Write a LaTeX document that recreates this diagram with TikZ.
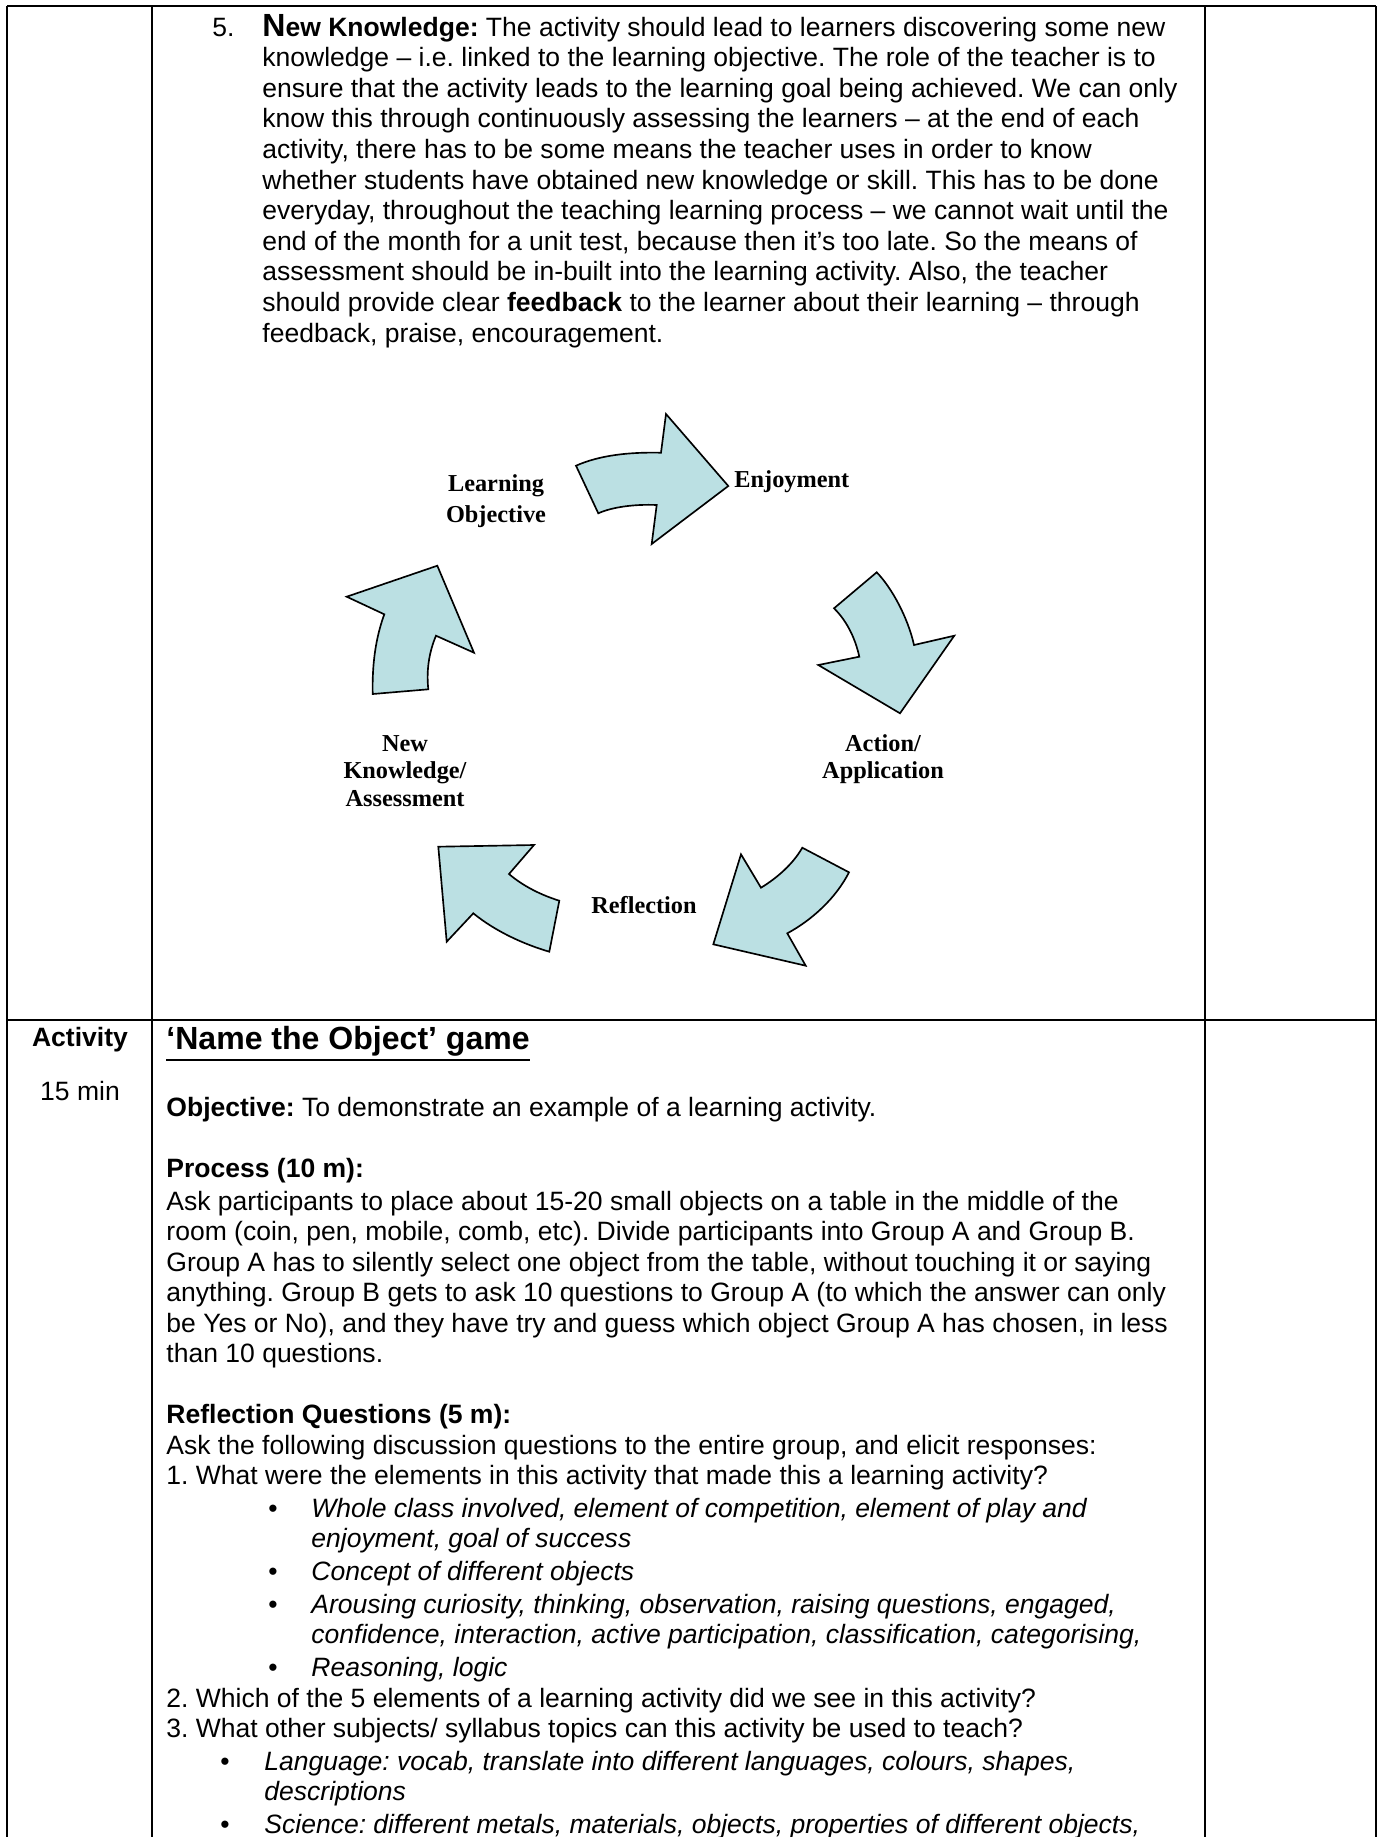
\documentclass[tikz,border=0pt]{standalone}
\usepackage{fontspec}
\setmainfont{Liberation Sans}
\newfontfamily\labserif{Liberation Serif}
\definecolor{arrowfill}{RGB}{187,224,227}
\newcommand{\bodyfont}{\frenchspacing\fontsize{12}{13.8}\selectfont}
\newcommand{\labfont}{\labserif\bfseries\fontsize{11}{12.4}\selectfont}
\tikzset{
  body/.style={anchor=base west, inner sep=0pt, font=\bodyfont},
  lab/.style={inner sep=0pt, align=center, font=\labfont},
  cyc/.style={draw=black, fill=arrowfill, line width=0.75pt, line join=miter},
  gridthin/.style={line width=0.55pt},
  gridthick/.style={line width=1pt},
  bul/.style={anchor=base west, inner sep=0pt, font=\bodyfont}
}
\begin{document}
\begin{tikzpicture}[x=0.4525pt, y=-0.4525pt]
\useasboundingbox (0,0) rectangle (1380,1837);
\fill[white] (0,0) rectangle (1380,1837);

% table rules
\draw[gridthick] (7,6) -- (1376,6);
\draw[gridthick] (7,1020) -- (1376,1020);
\draw[gridthin] (7,6) -- (7,1837);
\draw[gridthin] (152,6) -- (152,1837);
\draw[gridthin] (1205,6) -- (1205,1837);
\draw[gridthin] (1376,6) -- (1376,1837);

% top paragraph
\node[body] (n5) at (212,36) {5.};
\node[body] (p1) at (262,36) {\textbf{{\fontsize{14.5}{14}\selectfont N}ew Knowledge:} The activity should lead to learners discovering some new};
\node[body] (p2) at (262,66.6) {knowledge – i.e. linked to the learning objective. The role of the teacher is to};
\node[body] (p3) at (262,97.2) {ensure that the activity leads to the learning goal being achieved. We can only};
\node[body] (p4) at (262,127.8) {know this through continuously assessing the learners – at the end of each};
\node[body] (p5) at (262,158.4) {activity, there has to be some means the teacher uses in order to know};
\node[body] (p6) at (262,189) {whether students have obtained new knowledge or skill. This has to be done};
\node[body] (p7) at (262,219.6) {everyday, throughout the teaching learning process – we cannot wait until the};
\node[body] (p8) at (262,250.2) {end of the month for a unit test, because then it’s too late. So the means of};
\node[body] (p9) at (262,280.8) {assessment should be in-built into the learning activity. Also, the teacher};
\node[body] (p10) at (262,311.4) {should provide clear \textbf{feedback} to the learner about their learning – through};
\node[body] (p11) at (262,342) {feedback, praise, encouragement.};

% cycle arrows
\draw[cyc] (576,465.7) .. controls (600,455) and (630,452) .. (661,452.7)
  -- (666,414) -- (728.3,486) -- (651.7,544) -- (656.7,505)
  .. controls (635,504) and (612,507) .. (598.3,513.3) -- cycle;
\draw[cyc] (876.7,572.3) .. controls (892,588) and (908,618) .. (914,645)
  -- (954.3,635.7) -- (900,713.3) -- (818.3,665) -- (859.3,656.7)
  .. controls (855,637) and (846,620) .. (834,608.3) -- cycle;
\draw[cyc] (802.3,847.7) -- (849,872.3) .. controls (836,898) and (812,920) .. (787.3,933.3)
  -- (805.7,965.7) -- (713.3,944.3) -- (741,854.3) -- (761,887.7)
  .. controls (777,878) and (793,864) .. (802.3,847.7) -- cycle;
\draw[cyc] (438.3,846.7) -- (534,845) -- (509,874)
  .. controls (523,886) and (541,895) .. (559.3,900.7)
  -- (549.3,951.7) .. controls (523,944) and (495,931) .. (473.3,913.3)
  -- (446.7,941.7) -- cycle;
\draw[cyc] (346.7,596.7) -- (437.3,565.7) -- (474,652.7) -- (436,635.7)
  .. controls (430,650) and (426,668) .. (428.3,689.3)
  -- (372.7,694) .. controls (372,663) and (376,637) .. (384.3,614.3) -- cycle;

% cycle labels
\node[lab, font=\labserif\bfseries\fontsize{11}{13.8}\selectfont] (lobj) at (496,501) {Learning\\Objective};
\node[lab, anchor=west] (enj) at (734,482) {Enjoyment};
\node[lab] (act) at (883,759) {Action/\\Application};
\node[lab] (refl) at (644,905) {Reflection};
\node[lab] (newk) at (405,771) {New\\Knowledge/\\Assessment};

% second row
\node[body, anchor=base, font=\bodyfont\bfseries] (actv) at (80,1046) {Activity};
\node[body, anchor=base] (mins) at (80,1100) {15 min};
\node[body, font=\fontsize{14.5}{16}\selectfont\bfseries] (title) at (166,1049) {‘Name the Object’ game};
\draw[line width=1.1pt] ([yshift=-5pt]title.base west) -- ([yshift=-5pt]title.base east);
\node[body] (obj) at (166,1116) {\textbf{Objective:} To demonstrate an example of a learning activity.};
\node[body] (proc) at (166,1177) {\textbf{Process (10 m):}};
\node[body] (q1) at (166,1210) {Ask participants to place about 15-20 small objects on a table in the middle of the};
\node[body] (q2) at (166,1240) {room (coin, pen, mobile, comb, etc). Divide participants into Group A and Group B.};
\node[body] (q3) at (166,1271) {Group A has to silently select one object from the table, without touching it or saying};
\node[body] (q4) at (166,1301) {anything. Group B gets to ask 10 questions to Group A (to which the answer can only};
\node[body] (q5) at (166,1332) {be Yes or No), and they have try and guess which object Group A has chosen, in less};
\node[body] (q6) at (166,1362) {than 10 questions.};
\node[body] (rq) at (166,1423) {\textbf{Reflection Questions (5 m):}};
\node[body] (r1) at (166,1454) {Ask the following discussion questions to the entire group, and elicit responses:};
\node[body] (r2) at (166,1484) {1. What were the elements in this activity that made this a learning activity?};
\node[bul] (b1) at (268,1517) {•};
\node[body] (t1) at (311,1517) {\itshape Whole class involved, element of competition, element of play and};
\node[body] (t1b) at (311,1547) {\itshape enjoyment, goal of success};
\node[bul] (b2) at (268,1580) {•};
\node[body] (t2) at (311,1580) {\itshape Concept of different objects};
\node[bul] (b3) at (268,1613) {•};
\node[body] (t3) at (311,1613) {\itshape Arousing curiosity, thinking, observation, raising questions, engaged,};
\node[body] (t3b) at (311,1643) {\itshape confidence, interaction, active participation, classification, categorising,};
\node[bul] (b4) at (268,1676) {•};
\node[body] (t4) at (311,1676) {\itshape Reasoning, logic};
\node[body] (r3) at (166,1707) {2. Which of the 5 elements of a learning activity did we see in this activity?};
\node[body] (r4) at (166,1737) {3. What other subjects/ syllabus topics can this activity be used to teach?};
\node[bul] (b5) at (220,1770) {•};
\node[body] (t5) at (264,1770) {\itshape Language: vocab, translate into different languages, colours, shapes,};
\node[body] (t5b) at (264,1800) {\itshape descriptions};
\node[bul] (b6) at (220,1833) {•};
\node[body] (t6) at (264,1833) {\itshape Science: different metals, materials, objects, properties of different objects,};
\end{tikzpicture}
\end{document}
